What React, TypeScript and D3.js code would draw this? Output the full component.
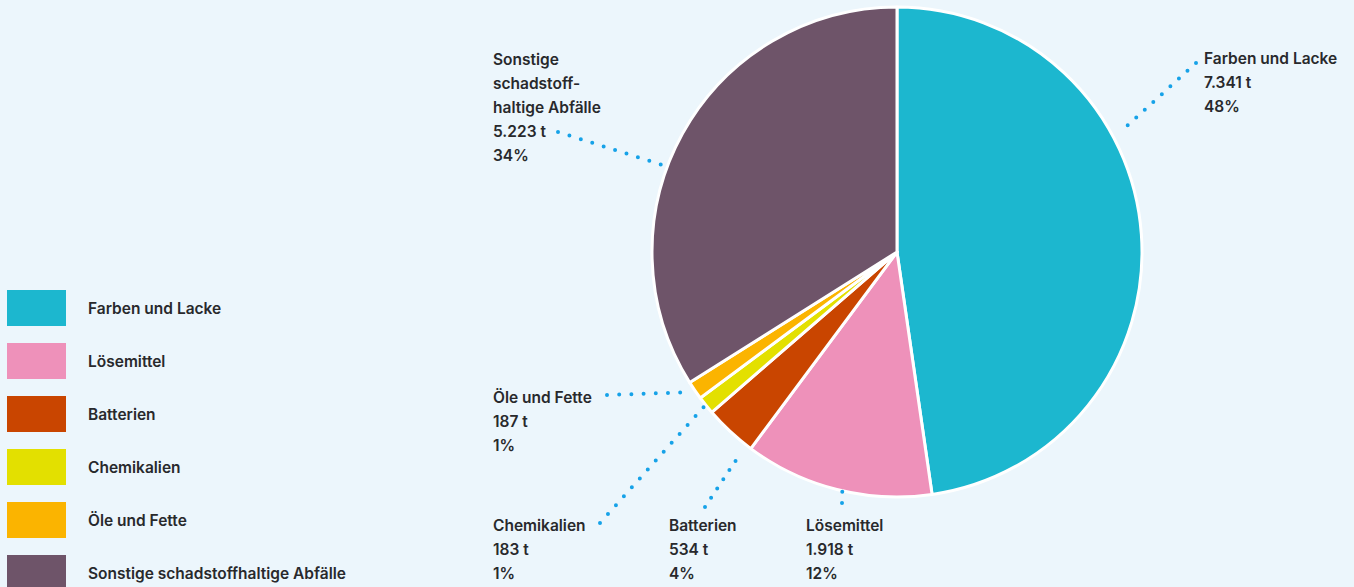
import { useEffect, useRef } from 'react';
import * as d3 from 'd3';

const categories = [
  'Farben und Lacke',
  'Lösemittel',
  'Batterien',
  'Chemikalien',
  'Öle und Fette',
  'Sonstige schadstoffhaltige Abfälle',
];
const tonnes = [7341, 1918, 534, 183, 187, 5223];
const amountLabels = ['7.341 t', '1.918 t', '534 t', '183 t', '187 t', '5.223 t'];
const percentLabels = ['48%', '12%', '4%', '1%', '1%', '34%'];
const colors = ['#1cb7cf', '#ee91ba', '#c94500', '#e3e000', '#fbb400', '#6e5469'];

// slice label name lines (wrapped like the original)
const nameLines = [
  ['Farben und Lacke'],
  ['Lösemittel'],
  ['Batterien'],
  ['Chemikalien'],
  ['Öle und Fette'],
  ['Sonstige', 'schadstoff-', 'haltige Abfälle'],
];

// layout for the callouts: where the text sits, where along the slice the leader starts
const labelLayout = [
  { x: 1204, y: 58, t: 0.36, dr: 7, end: [1196, 63] },
  { x: 806, y: 525, t: 0.47, dr: 1, end: [842, 503] },
  { x: 669, y: 525, t: 0.1, dr: 8, end: [705, 507] },
  { x: 493, y: 525, t: 0.5, dr: 3, end: [600, 523] },
  { x: 493, y: 397, t: 0.5, dr: 3, end: [607, 395] },
  { x: 493, y: 59, t: 0.43, dr: 7, end: [558, 132] },
];

export default function App() {
  const svgRef = useRef<SVGSVGElement>(null);

  useEffect(() => {
    if (!svgRef.current) return;
    const svg = d3.select(svgRef.current);
    svg.selectAll('*').remove();

    const W = 1354;
    const H = 587;
    const cx = 897;
    const cy = 252;
    const radius = 245;
    const font = 'Inter, "Noto Sans", sans-serif';
    const textColor = '#28292c';
    const fontSize = 15.5;
    const fontWeight = 600;

    svg.attr('width', W).attr('height', H);
    svg.append('rect').attr('width', W).attr('height', H).attr('fill', '#ecf6fc');

    const data = categories.map((c, i) => ({ name: c, value: tonnes[i], i }));
    const pie = d3
      .pie<{ name: string; value: number; i: number }>()
      .sort(null)
      .value((d) => d.value);
    const arcs = pie(data);
    const arc = d3
      .arc<d3.PieArcDatum<{ name: string; value: number; i: number }>>()
      .innerRadius(0)
      .outerRadius(radius);

    const g = svg.append('g').attr('transform', `translate(${cx},${cy})`);
    g.selectAll('path')
      .data(arcs)
      .join('path')
      .attr('d', arc)
      .attr('fill', (d) => colors[d.data.i])
      .attr('stroke', '#ffffff')
      .attr('stroke-width', 3)
      .attr('stroke-linejoin', 'round');

    // leader lines (dotted, a dot at each end)
    arcs.forEach((a, i) => {
      const lay = labelLayout[i];
      const ang = a.startAngle + (a.endAngle - a.startAngle) * lay.t;
      const r = radius + lay.dr;
      const sx = cx + r * Math.sin(ang);
      const sy = cy - r * Math.cos(ang);
      const len = Math.hypot(sx - lay.end[0], sy - lay.end[1]);
      const gap = len / Math.max(1, Math.round(len / 11.8));
      svg
        .append('line')
        .attr('x1', lay.end[0])
        .attr('y1', lay.end[1])
        .attr('x2', sx)
        .attr('y2', sy)
        .attr('stroke', '#16a2e8')
        .attr('stroke-width', 4)
        .attr('stroke-linecap', 'round')
        .attr('stroke-dasharray', `0 ${gap}`);
    });

    // callout texts
    labelLayout.forEach((lay, i) => {
      const lines = [...nameLines[i], amountLabels[i], percentLabels[i]];
      const t = svg
        .append('text')
        .attr('x', lay.x)
        .attr('y', lay.y)
        .attr('font-family', font)
        .attr('font-size', fontSize)
        .attr('font-weight', fontWeight)
        .attr('fill', textColor)
        .attr('dominant-baseline', 'central');
      lines.forEach((ln, k) => {
        t.append('tspan')
          .attr('x', lay.x)
          .attr('y', lay.y + k * 24)
          .text(ln);
      });
    });

    // legend
    const legendY = d3
      .scaleBand<string>()
      .domain(categories)
      .range([290, 591])
      .paddingInner(17 / 53)
      .paddingOuter(0);
    const lg = svg.append('g');
    categories.forEach((c, i) => {
      const y = legendY(c)!;
      lg.append('rect')
        .attr('x', 7)
        .attr('y', y)
        .attr('width', 59)
        .attr('height', legendY.bandwidth())
        .attr('fill', colors[i]);
      lg.append('text')
        .attr('x', 88)
        .attr('y', y + legendY.bandwidth() / 2)
        .attr('dominant-baseline', 'central')
        .attr('font-family', font)
        .attr('font-size', fontSize)
        .attr('font-weight', fontWeight)
        .attr('fill', textColor)
        .text(c);
    });
  }, []);

  return (
    <div style={{ position: 'absolute', left: 0, top: 0 }}>
      <svg ref={svgRef} style={{ display: 'block' }} />
    </div>
  );
}
